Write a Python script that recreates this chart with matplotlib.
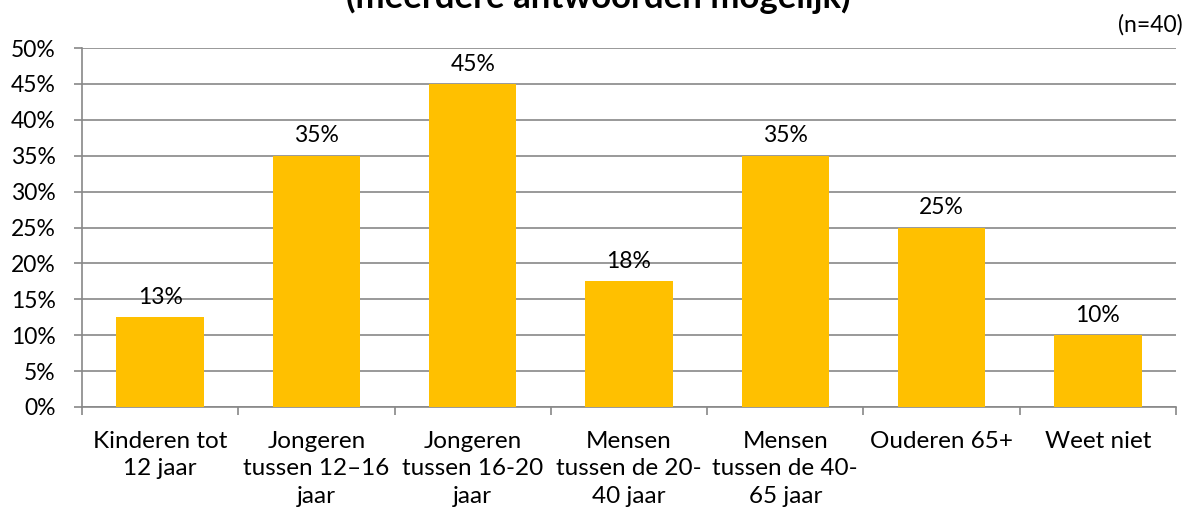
import matplotlib.pyplot as plt
import numpy as np

categories = ['Kinderen tot\n12 jaar', 'Jongeren\ntussen 12–16\njaar', 'Jongeren\ntussen 16-20\njaar',
              'Mensen\ntussen de 20-\n40 jaar', 'Mensen\ntussen de 40-\n65 jaar', 'Ouderen 65+', 'Weet niet']
values = [12.5, 35, 45, 17.5, 35, 25, 10]
value_labels = ['13%', '35%', '45%', '18%', '35%', '25%', '10%']
yticks = [0, 5, 10, 15, 20, 25, 30, 35, 40, 45, 50]

plt.rcParams['font.family'] = ['Lato', 'DejaVu Sans']

fig = plt.figure(figsize=(11.92, 5.23), dpi=100)
ax = fig.add_axes([0.0688, 0.2218, 0.9178, 0.6864])

x = np.arange(len(categories))
bars = ax.bar(x, values, width=0.56, color='#FFC000', zorder=3)
for b, lab in zip(bars, value_labels):
    ax.text(b.get_x() + b.get_width() / 2, b.get_height() + 1.3, lab,
            ha='center', va='bottom', fontsize=16.5, color='black')

ax.set_xlim(-0.5, len(categories) - 0.5)
ax.set_ylim(0, 50)
ax.set_yticks(yticks)
ax.set_yticklabels([f'{t}%' for t in yticks], fontsize=16.5)
ax.yaxis.grid(True, color='#888888', linewidth=1.2, zorder=0)

# category labels between boundary ticks
ax.set_xticks(np.arange(len(categories) + 1) - 0.5)
ax.set_xticklabels([])
ax.set_xticks(x, minor=True)
ax.set_xticklabels(categories, minor=True, fontsize=17.5, linespacing=1.4)
ax.tick_params(axis='x', which='minor', length=0, pad=17)
ax.tick_params(axis='x', which='major', length=6, color='#888888', width=1.2)
ax.tick_params(axis='y', length=6, color='#888888', width=1.2, pad=13)

for s in ['top', 'right']:
    ax.spines[s].set_visible(False)
for s in ['left', 'bottom']:
    ax.spines[s].set_color('#888888')
    ax.spines[s].set_linewidth(1.2)

fig.text(0.5017, 0.985, '(meerdere antwoorden mogelijk)', ha='center', va='baseline',
         fontsize=25, fontweight='bold')
fig.text(0.9925, 0.952, '(n=40)', ha='right', va='center', fontsize=16.5)

fig.savefig('out.png', dpi=100)
